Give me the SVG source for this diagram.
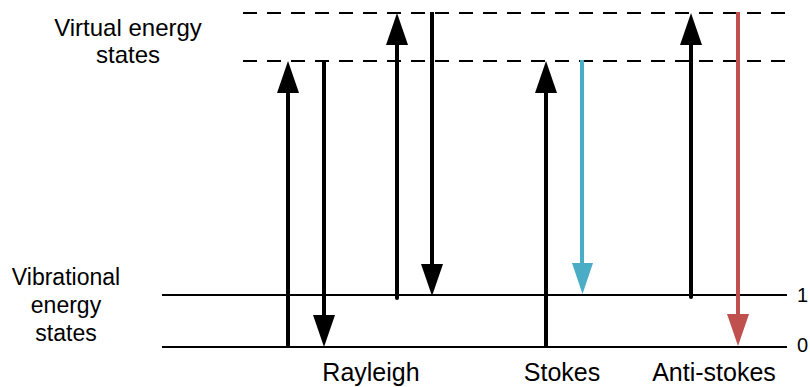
<svg xmlns="http://www.w3.org/2000/svg" width="810" height="387" viewBox="0 0 810 387">
<style>
.lvl{stroke:#000;stroke-width:2;fill:none}
.virt{stroke:#000;stroke-width:2;fill:none;stroke-dasharray:14 10}
.k{stroke:#000;stroke-width:4;fill:none}
.b{stroke:#4BACC6;stroke-width:4;fill:none}
.r{stroke:#C0504D;stroke-width:4;fill:none}
text{font-family:"Liberation Sans",Arial,sans-serif;fill:#000}
.lab{font-size:24px;text-anchor:middle}
.bot{font-size:25px;text-anchor:middle}
.num{font-size:20px}
</style>
<defs>
<marker id="ak" markerUnits="userSpaceOnUse" markerWidth="34" markerHeight="24" refX="12" refY="11" orient="auto"><path d="M0,0 L32,11 L0,22 z" fill="#000"/></marker>
<marker id="ab" markerUnits="userSpaceOnUse" markerWidth="34" markerHeight="24" refX="12" refY="11" orient="auto"><path d="M0,0 L31,10.5 L0,21 z" fill="#4BACC6"/></marker>
<marker id="ar" markerUnits="userSpaceOnUse" markerWidth="34" markerHeight="24" refX="12" refY="11" orient="auto"><path d="M0,0 L32,11 L0,22 z" fill="#C0504D"/></marker>
</defs>
<g id="levels">
<line class="virt" x1="243" y1="13" x2="787" y2="13"/>
<line class="virt" x1="243" y1="61" x2="787" y2="61"/>
<line class="lvl" x1="162" y1="295" x2="787" y2="295"/>
<line class="lvl" x1="162" y1="347" x2="787" y2="347"/>
</g>
<g id="connectors">
<line class="k" x1="288" y1="348" x2="288" y2="81" marker-end="url(#ak)"/>
<line class="k" x1="324" y1="60" x2="324" y2="327" marker-end="url(#ak)"/>
<line class="k" x1="397" y1="298" x2="397" y2="33" marker-end="url(#ak)" stroke-linecap="round"/>
<line class="k" x1="432" y1="12" x2="432" y2="276" marker-end="url(#ak)"/>
<line class="k" x1="546" y1="348" x2="546" y2="81" marker-end="url(#ak)"/>
<line class="b" x1="582" y1="60" x2="582" y2="275" marker-end="url(#ab)"/>
<line class="k" x1="691" y1="297" x2="691" y2="33" marker-end="url(#ak)" stroke-linecap="round"/>
<line class="r" x1="738" y1="12" x2="738" y2="326" marker-end="url(#ar)"/>
</g>
<g id="virtual-label">
<text class="lab" x="128" y="36">Virtual energy</text>
<text class="lab" x="128" y="63">states</text>
</g>
<g id="vibrational-label">
<text class="lab" x="66" y="285" style="font-size:23px">Vibrational</text>
<text class="lab" x="66" y="313" style="font-size:23px">energy</text>
<text class="lab" x="66" y="341" style="font-size:23px">states</text>
</g>
<g id="numbers">
<text class="num" x="797" y="302">1</text>
<text class="num" x="797" y="352">0</text>
</g>
<g id="process-labels">
<text class="bot" x="371" y="381">Rayleigh</text>
<text class="bot" x="562" y="381">Stokes</text>
<text class="bot" x="714" y="381">Anti-stokes</text>
</g>
</svg>
